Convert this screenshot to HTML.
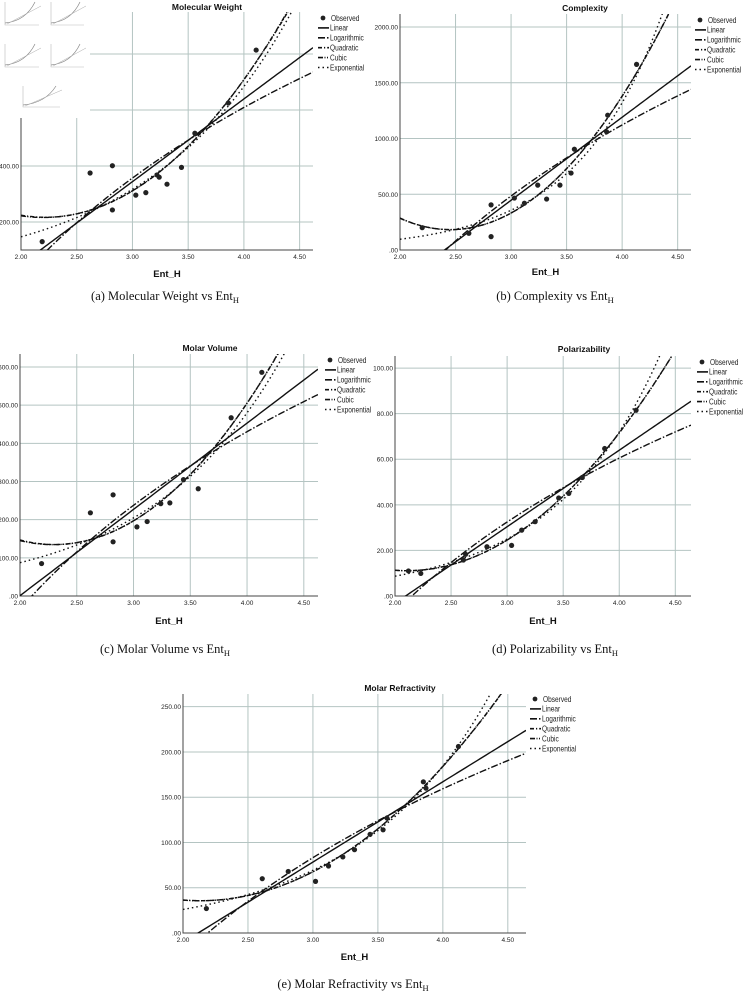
<!DOCTYPE html>
<html><head><meta charset="utf-8">
<style>
html,body{margin:0;padding:0;background:#fff;}
body{width:744px;height:997px;overflow:hidden;position:relative;}
svg{position:absolute;left:0;top:0;}
text{font-family:"Liberation Sans",sans-serif;}
.cap{font-family:"Liberation Serif",serif;font-size:12.5px;fill:#111;}
</style></head>
<body>
<svg id="fig" width="744" height="997" viewBox="0 0 744 997"></svg>
<script>
// ---------- DATA ----------
const entA = [2.19,2.62,2.82,2.82,3.03,3.12,3.22,3.24,3.31,3.44,3.56,3.86,4.11];
const mwA  = [130,375,401,243,296,305,368,360,335,395,517,625,814];
const entB = [2.20,2.62,2.82,2.82,3.03,3.12,3.24,3.32,3.44,3.54,3.57,3.87,3.86,4.13];
const cxB  = [200,150,405,120,466,420,582,457,582,690,904,1209,1060,1665];
const entC = [2.19,2.62,2.82,2.82,3.03,3.12,3.24,3.32,3.44,3.57,3.86,4.13];
const mvC  = [85,218,265,142,181,195,242,244,305,281,467,586];
const entD = [2.12,2.23,2.61,2.63,2.82,3.04,3.13,3.25,3.46,3.55,3.67,3.87,4.15];
const polD = [11,9.9,15.8,18.3,21.6,22.2,28.9,32.6,43,45,52,64.7,81.5];
const entE = [2.18,2.61,2.81,3.02,3.12,3.23,3.32,3.44,3.54,3.57,3.85,3.87,4.12];
const mrE  = [27,60,68,57,74,84,92,109,114,127,167,160,206];
const xTickVals = [2.00,2.50,3.00,3.50,4.00,4.50];
const yTicksA = [200,400,600,800];
const yTicksB = [0,500,1000,1500,2000];
const yTicksC = [0,100,200,300,400,500,600];
const yTicksD = [0,20,40,60,80,100];
const yTicksE = [0,50,100,150,200,250];
const legendLabels = ["Observed","Linear","Logarithmic","Quadratic","Cubic","Exponential"];

// ---------- helpers ----------
const NS="http://www.w3.org/2000/svg";
const svg=document.getElementById('fig');
function mk(tag,attrs,parent){const e=document.createElementNS(NS,tag);for(const k in attrs)e.setAttribute(k,attrs[k]);(parent||svg).appendChild(e);return e;}
function solve(A,b){const n=b.length;const M=A.map((r,i)=>r.concat([b[i]]));
 for(let i=0;i<n;i++){let p=i;for(let r=i+1;r<n;r++)if(Math.abs(M[r][i])>Math.abs(M[p][i]))p=r;[M[i],M[p]]=[M[p],M[i]];
  for(let r=0;r<n;r++){if(r===i)continue;const f=M[r][i]/M[i][i];for(let c=i;c<=n;c++)M[r][c]-=f*M[i][c];}}
 return M.map((r,i)=>r[n]/r[i]);}
function polyfit(xs,ys,d,ridge){const A=[],b=[];for(let i=0;i<=d;i++){A.push([]);for(let j=0;j<=d;j++){let s=0;xs.forEach(x=>s+=Math.pow(x,i+j));A[i].push(s);}let s=0;xs.forEach((x,k)=>s+=ys[k]*Math.pow(x,i));b.push(s);}
 if(ridge)A[d][d]+=ridge;return solve(A,b);}
function pe(c,x){return c.reduce((s,v,i)=>s+v*Math.pow(x,i),0);}
function fmt(v){return v===0?".00":v.toFixed(2);}
const styles=[null,{d:"none"},{d:"7,2,1.5,2"},{d:"4,2,1.2,2"},{d:"5,1.5,1,1.5,1,1.5"},{d:"1.5,3"}];
const fitNames=["linear","logarithmic","quadratic","cubic","exponential"];

function panel(cfg,xs,ys,yTicks){
 const g=mk('g',{});
 
 
 const sx=v=>cfg.l+(v-2)*(cfg.r-cfg.l)/(cfg.xMax-2);
 const sy=v=>cfg.b-(v-cfg.yMin)*(cfg.b-cfg.t)/(cfg.yMax-cfg.yMin);
 const cid='clip-'+cfg.name;
 const cp=mk('clipPath',{id:cid},g);mk('rect',{x:cfg.l,y:cfg.t,width:cfg.r-cfg.l,height:cfg.b-cfg.t},cp);
 xTickVals.forEach(v=>{if(v>2){const l=mk('line',{x1:sx(v),x2:sx(v),y1:cfg.t,y2:cfg.b,stroke:'#b4c4c2','stroke-width':1},g);}
  const t=mk('text',{x:sx(v),y:cfg.b+9,'font-size':6.5,'text-anchor':'middle',fill:'#222'},g);t.textContent=v.toFixed(2);});
 yTicks.forEach(v=>{if(v>cfg.yMin){const l=mk('line',{x1:cfg.l,x2:cfg.r,y1:sy(v),y2:sy(v),stroke:'#b4c4c2','stroke-width':1},g);}
  const t=mk('text',{x:cfg.l-2,y:sy(v)+2.5,'font-size':6.5,'text-anchor':'end',fill:'#222'},g);t.textContent=fmt(v);});
 const ax=mk('path',{d:`M${cfg.l},${cfg.t}V${cfg.b}H${cfg.r}`,stroke:'#444',fill:'none','stroke-width':1},g);
 
 const lx=xs.map(Math.log), ly=ys.map(Math.log);
 const m=xs.reduce((a,b)=>a+b,0)/xs.length; const xc=xs.map(x=>x-m);
 const cL=polyfit(xs,ys,1),cLog=polyfit(lx,ys,1),cQ=polyfit(xs,ys,2),cC=polyfit(xc,ys,3,xs.length*2),cE=polyfit(xs,ly,1);
 const fns=[x=>pe(cL,x),x=>pe(cLog,Math.log(x)),x=>pe(cQ,x),x=>pe(cC,x-m),x=>Math.exp(pe(cE,x))];
 const cg=mk('g',{'clip-path':`url(#${cid})`},g);
 fns.forEach((f,i)=>{let d='';for(let k=0;k<=120;k++){const x=2+(cfg.xMax-2)*k/120;d+=(k?'L':'M')+sx(x).toFixed(2)+','+sy(f(x)).toFixed(2);}
  const p=mk('path',{d:d,fill:'none',stroke:'#111','stroke-width':1.4,'stroke-dasharray':styles[i+1].d},cg);
  });
 xs.forEach((x,i)=>{const c=mk('circle',{cx:sx(x),cy:sy(ys[i]),r:2.6,fill:'#222'},cg);});
 const tt=mk('text',{x:cfg.tx,y:cfg.ty,'font-size':8.5,'font-weight':'bold','text-anchor':'middle',fill:'#111'},g);tt.textContent=cfg.title;
 
 const xl=mk('text',{x:(cfg.l+cfg.r)/2,y:cfg.xly,'font-size':9.5,'font-weight':'bold','text-anchor':'middle',fill:'#111'},g);xl.textContent='Ent_H';
 
 const lg=mk('g',{},g);
 legendLabels.forEach((lab,i)=>{const y=cfg.ly+i*9.9;
  const e=mk('g',{},lg);
  if(i===0)mk('circle',{cx:cfg.lx+5,cy:y,r:2.4,fill:'#222'},e);
  else mk('line',{x1:cfg.lx,x2:cfg.lx+11,y1:y,y2:y,stroke:'#111','stroke-width':1.6,'stroke-dasharray':styles[i].d},e);
  const tx=cfg.lx+(i===0?13:12);
  const t=mk('text',{x:0,y:0,'font-size':8,fill:'#222',transform:`translate(${tx},${y+2.8}) scale(0.82,1)`},e);t.textContent=lab;});
 const cap=mk('text',{x:cfg.cx,y:cfg.cy,'text-anchor':'middle',class:'cap'},g);
 
 cap.appendChild(document.createTextNode(cfg.cap));
 const ts=document.createElementNS(NS,'tspan');ts.setAttribute('font-size','8.5');ts.setAttribute('dy','3');ts.textContent='H';cap.appendChild(ts);
}

panel({name:'molecular-weight',l:21,r:313,xMax:4.62,b:250,t:12,yMin:100,yMax:950,title:'Molecular Weight',tx:207,ty:10,xly:277,lx:318,ly:18,cx:165,cy:300,cap:'(a) Molecular Weight vs Ent'},entA,mwA,yTicksA);
panel({name:'complexity',l:400,r:691,xMax:4.62,b:250,t:14,yMin:0,yMax:2117,title:'Complexity',tx:585,ty:11,xly:275,lx:695,ly:20,cx:555,cy:300,cap:'(b) Complexity vs Ent'},entB,cxB,yTicksB);
panel({name:'molar-volume',l:20,r:318,xMax:4.625,b:596,t:354,yMin:0,yMax:634,title:'Molar Volume',tx:210,ty:351,xly:624,lx:325,ly:360,cx:165,cy:653,cap:'(c) Molar Volume vs Ent'},entC,mvC,yTicksC);
panel({name:'polarizability',l:395,r:691,xMax:4.64,b:596,t:356,yMin:0,yMax:105.3,title:'Polarizability',tx:584,ty:352,xly:624,lx:697,ly:362,cx:555,cy:653,cap:'(d) Polarizability vs Ent'},entD,polD,yTicksD);
panel({name:'molar-refractivity',l:183,r:526,xMax:4.64,b:933,t:694,yMin:0,yMax:264,title:'Molar Refractivity',tx:400,ty:691,xly:960,lx:530,ly:699,cx:353,cy:988,cap:'(e) Molar Refractivity vs Ent'},entE,mrE,yTicksE);

const ov=mk('g',{});
mk('rect',{x:0,y:0,width:90,height:118,fill:'#fff'},ov);
[[2,0,43,30],[48,0,42,30],[2,42,43,30],[48,42,42,30],[20,84,46,28]].forEach(b=>{
 const t=mk('g',{},ov);
 mk('path',{d:`M${b[0]+3},${b[1]+2}V${b[1]+b[3]-5}H${b[0]+b[2]-6}`,stroke:'#bbb',fill:'none','stroke-width':0.6},t);
 mk('path',{d:`M${b[0]+3},${b[1]+b[3]-7}Q${b[0]+b[2]*0.55},${b[1]+b[3]-9} ${b[0]+b[2]-10},${b[1]+2}`,stroke:'#888',fill:'none','stroke-width':0.7},t);
 mk('path',{d:`M${b[0]+5},${b[1]+b[3]-6}L${b[0]+b[2]-4},${b[1]+6}`,stroke:'#aaa',fill:'none','stroke-width':0.5},t);
});
</script>
</body></html>
